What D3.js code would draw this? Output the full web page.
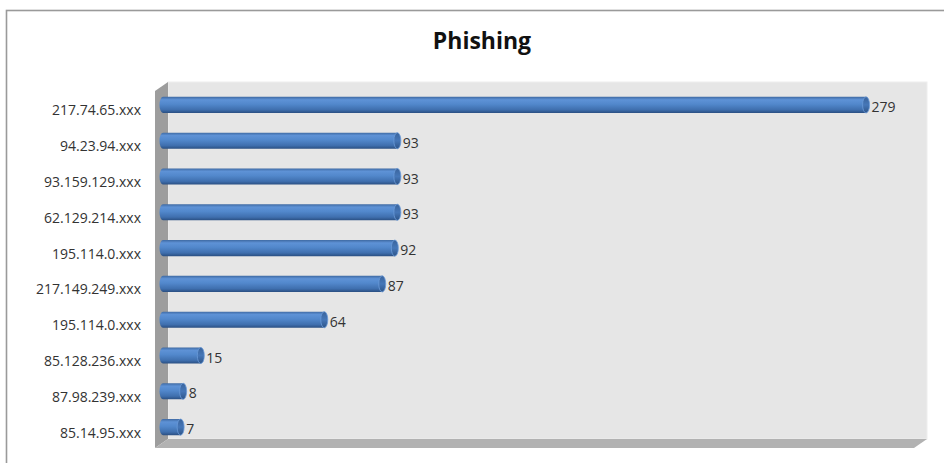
<!DOCTYPE html>
<html>
<head>
<meta charset="utf-8">
<script src="https://cdn.jsdelivr.net/npm/d3@7"></script>
<style>
  html, body { margin: 0; padding: 0; background: #ffffff; }
  svg { display: block; }
</style>
</head>
<body>
<div id="chart"></div>
<script>
// Source addresses, top to bottom
const categories = [
  "217.74.65.xxx", "94.23.94.xxx", "93.159.129.xxx", "62.129.214.xxx",
  "195.114.0.xxx", "217.149.249.xxx", "195.114.0.xxx", "85.128.236.xxx",
  "87.98.239.xxx", "85.14.95.xxx"
];
// Phishing counts for each address
const values = [279, 93, 93, 93, 92, 87, 64, 15, 8, 7];
const chartTitle = "Phishing";

const W = 944, H = 463;
const font = "'Open Sans', 'Noto Sans', sans-serif";
const svg = d3.select("#chart").append("svg").attr("width", W).attr("height", H);

// Outer chart frame
svg.append("rect")
  .attr("x", 6.5).attr("y", 10.5).attr("width", W + 10).attr("height", H + 10)
  .attr("fill", "#fff").attr("stroke", "#9a9a9a").attr("stroke-width", 1.6);

// Keys are indexed so the repeated address label keeps its own band
const keys = categories.map((c, i) => i);
const x = d3.scaleLinear().domain([0, 300]).range([163, 919]);
const y = d3.scaleBand().domain(keys).range([87, 445]).paddingInner(0.55).paddingOuter(0.275);

// 3-D box: back wall, left side wall and floor
const wall = { x0: 168, x1: 927, y0: 82, y1: 439, depthX: 13, depthY: 9 };
svg.append("rect")
  .attr("x", wall.x0).attr("y", wall.y0)
  .attr("width", wall.x1 - wall.x0).attr("height", wall.y1 - wall.y0)
  .attr("fill", "#e6e6e6").attr("stroke", "#eeeeee").attr("stroke-width", 1);
svg.append("path")
  .attr("d", `M${wall.x0 - wall.depthX},${wall.y0 + wall.depthY} L${wall.x0},${wall.y0} L${wall.x0},${wall.y1} L${wall.x0 - wall.depthX},${wall.y1 + wall.depthY} Z`)
  .attr("fill", "#9d9d9d");
svg.append("path")
  .attr("d", `M${wall.x0 - wall.depthX},${wall.y1 + wall.depthY} L${wall.x0},${wall.y1} L${wall.x1},${wall.y1} L${wall.x1 - wall.depthX},${wall.y1 + wall.depthY} Z`)
  .attr("fill", "#b2b2b2");

// Cylinder shading
const defs = svg.append("defs");
const g1 = defs.append("linearGradient").attr("id", "cyl").attr("x1", 0).attr("y1", 0).attr("x2", 0).attr("y2", 1);
[[0, "#3f6aa3"], [0.18, "#5e92d6"], [0.45, "#5288cc"], [0.8, "#3f6fae"], [1, "#2a4f82"]]
  .forEach(([o, c]) => g1.append("stop").attr("offset", o).attr("stop-color", c));
const g2 = defs.append("linearGradient").attr("id", "cap").attr("x1", 0).attr("y1", 0).attr("x2", 0).attr("y2", 1);
[[0, "#3a649c"], [0.5, "#4677b8"], [1, "#2d5488"]]
  .forEach(([o, c]) => g2.append("stop").attr("offset", o).attr("stop-color", c));

const bh = y.bandwidth();
const rx = 3.5;
const bars = svg.append("g").selectAll("g").data(values).join("g");

// Body with a rounded near end
bars.append("path")
  .attr("d", (d, i) => {
    const x0 = x(0), x1 = x(d), t = y(i), b = t + bh;
    return `M${x1},${t} L${x0},${t} A${rx},${bh / 2} 0 0 0 ${x0},${b} L${x1},${b} Z`;
  })
  .attr("fill", "url(#cyl)");
// Far end cap
bars.append("ellipse")
  .attr("cx", d => x(d)).attr("cy", (d, i) => y(i) + bh / 2)
  .attr("rx", rx).attr("ry", bh / 2)
  .attr("fill", "url(#cap)").attr("stroke", "#6b9ad8").attr("stroke-width", 0.8);

// Value labels
bars.append("text")
  .attr("x", d => x(d) + rx + 2).attr("y", (d, i) => y(i) + bh / 2 + 7)
  .attr("font-family", font).attr("font-size", 14)
  .attr("fill", "#333").text(d => d);

// Category axis labels sit on the front edge of the box, slightly lower
svg.append("g").selectAll("text").data(categories).join("text")
  .attr("x", 141).attr("y", (d, i) => y(i) + bh / 2 + 10.5)
  .attr("text-anchor", "end")
  .attr("font-family", font).attr("font-size", 14)
  .attr("fill", "#333").text(d => d);

// Title
svg.append("text")
  .attr("x", 482).attr("y", 49).attr("text-anchor", "middle")
  .attr("font-family", font).attr("font-weight", "bold")
  .attr("font-size", 23).attr("fill", "#111").text(chartTitle);
</script>
</body>
</html>
